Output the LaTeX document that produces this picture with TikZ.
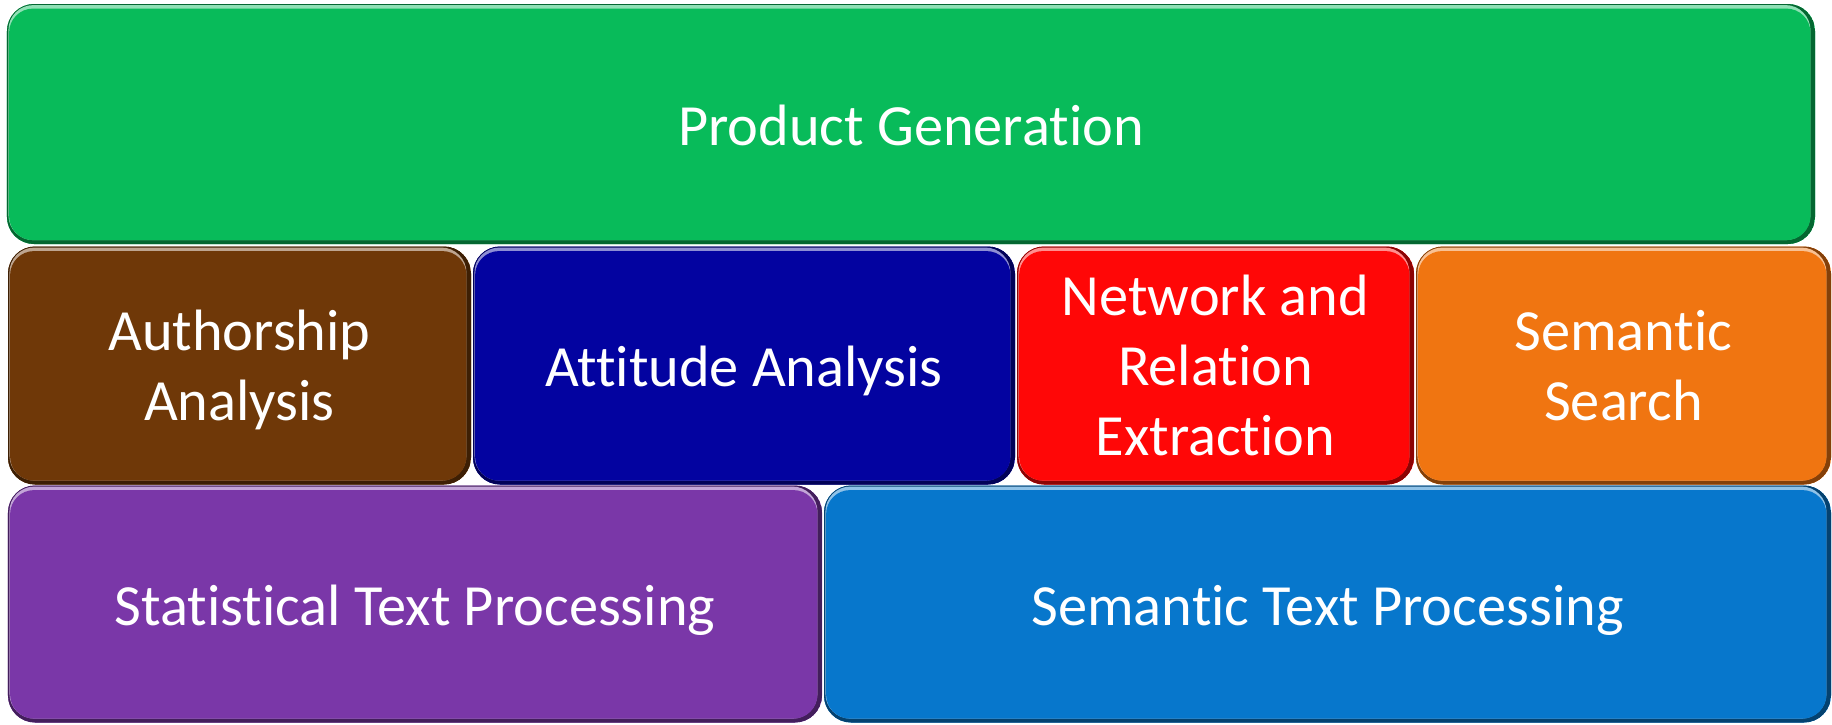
\documentclass[tikz,border=0pt]{standalone}
\usepackage{fontspec}
\setmainfont{Carlito}[Ligatures=NoCommon]
\usetikzlibrary{positioning}
\definecolor{GenGreen}{RGB}{8,187,90}
\definecolor{AuthBrown}{RGB}{111,56,8}
\definecolor{AttBlue}{RGB}{3,3,160}
\definecolor{NetRed}{RGB}{255,7,7}
\definecolor{SearchOrange}{RGB}{240,117,17}
\definecolor{StatPurple}{RGB}{122,55,168}
\definecolor{SemBlue}{RGB}{7,119,204}

\begin{document}
\begin{tikzpicture}[
    font=\fontsize{16.6}{19.85}\selectfont,
    block/.style={rounded corners=0.27cm, fill=#1, text=white, align=center,
        inner sep=0pt, outer sep=0pt, text height=0.5cm, text depth=0.08cm,
        path picture={
            % dark rim, heavier at the bottom and right
            \fill[#1!55!black, rounded corners=0.27cm]
                (path picture bounding box.south west) rectangle (path picture bounding box.north east);
            % light bevel along the top
            \fill[#1!45!white, rounded corners=0.25cm]
                ([shift={(0.4pt,-0.3pt)}]path picture bounding box.north west)
                rectangle ([shift={(-1.3pt,1.1pt)}]path picture bounding box.south east);
            % flat face
            \fill[#1, rounded corners=0.24cm]
                ([shift={(0.6pt,-1.3pt)}]path picture bounding box.north west)
                rectangle ([shift={(-1.3pt,1.1pt)}]path picture bounding box.south east);
        }},
    twolines/.style={text height=1.2cm, text depth=0.1cm},
    threelines/.style={text height=1.9cm, text depth=0.1cm},
]
    \useasboundingbox (0,0) rectangle (18.32,-7.24);

    % Top layer
    \node[block=GenGreen, minimum width=18.08cm, minimum height=2.40cm] (gen) at (9.11,-1.24) {Product Generation};

    % Middle layer
    \node[block=AuthBrown, twolines, minimum width=4.63cm, minimum height=2.38cm] (auth) at (2.395,-3.655) {Authorship\\Analysis};
    \node[block=AttBlue, minimum width=5.42cm, minimum height=2.38cm] (att) at (7.44,-3.655) {Attitude Analysis};
    \node[block=NetRed, threelines, minimum width=3.97cm, minimum height=2.38cm] (net) at (12.155,-3.655) {Network and\\Relation\\Extraction};
    \node[block=SearchOrange, twolines, minimum width=4.15cm, minimum height=2.38cm] (search) at (16.235,-3.655) {Semantic\\Search};

    % Bottom layer
    \node[block=StatPurple, minimum width=8.14cm, minimum height=2.37cm] (stat) at (4.15,-6.04) {Statistical Text Processing};
    \node[block=SemBlue, minimum width=10.07cm, minimum height=2.37cm] (sem) at (13.275,-6.04) {Semantic Text Processing};

\end{tikzpicture}
\end{document}
